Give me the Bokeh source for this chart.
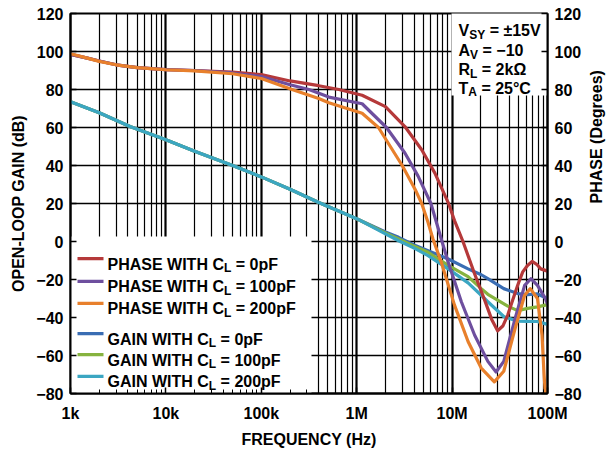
import math
from bokeh.plotting import figure
from bokeh.models import LinearAxis, Range1d, FixedTicker, Label, BoxAnnotation
from bokeh.embed import file_html
from bokeh.resources import INLINE

FONT = "Liberation Sans"

# ---------------- data ----------------
x_tick_values = [1000, 10000, 100000, 1000000, 10000000, 100000000]
x_tick_labels = ["1k", "10k", "100k", "1M", "10M", "100M"]
y_tick_values = [-80, -60, -40, -20, 0, 20, 40, 60, 80, 100, 120]
y_tick_labels = ["\u221280", "\u221260", "\u221240", "\u221220", "0", "20", "40", "60", "80", "100", "120"]

gain_0pF_freq = [1e3, 2e3, 4.2e3, 1e4, 2e4, 5e4, 1e5, 2e5, 4e5, 1e6, 2e6, 2.75e6, 4e6, 5.6e6,
                 9.1e6, 14.7e6, 20.2e6, 23.7e6, 34.8e6, 48.7e6, 61.7e6, 78.5e6, 1e8]
gain_0pF = [73.5, 67.8, 60.5, 53.5, 47.5, 40, 34, 27.5, 20.5, 12, 5, 2.2, -1.8, -4.8,
            -9.2, -14.4, -17.5, -19.6, -24.8, -27.4, -28, -27.6, -30]

gain_100pF_freq = [1e3, 2e3, 4.2e3, 1e4, 2e4, 5e4, 1e5, 2e5, 4e5, 1e6, 2e6, 2.75e6, 4e6, 5.6e6,
                   9.1e6, 14.7e6, 20.2e6, 23.7e6, 38.3e6, 48.7e6, 62e6, 78.5e6, 1e8]
gain_100pF = [73.5, 67.8, 60.5, 53.5, 47.5, 40, 34, 27.5, 20.5, 12, 4.5, 1.3, -2.5, -5.7,
              -12.6, -18.5, -24.8, -27.8, -34, -36.4, -35.2, -34.4, -33.2]

gain_200pF_freq = [1e3, 2e3, 4.2e3, 1e4, 2e4, 5e4, 1e5, 2e5, 4e5, 1e6, 2e6, 2.75e6, 4e6, 5.6e6,
                   9.1e6, 14.7e6, 20.2e6, 23.7e6, 35e6, 48.7e6, 62e6, 78.5e6, 1e8]
gain_200pF = [73.5, 67.8, 60.5, 53.5, 47.5, 40, 34, 27.5, 20.5, 12, 4, 0.4, -3.5, -7.4,
              -14.4, -21.8, -28.3, -31.7, -39.6, -41.9, -42, -42.1, -43.6]

phase_0pF_freq = [1e3, 1.5e3, 2e3, 3e3, 5e3, 1e4, 2e4, 5e4, 1e5, 2e5, 4e5, 6.5e5, 1.14e6, 2e6,
                  3.2e6, 4.8e6, 6.6e6, 9.1e6, 10.6e6, 13e6, 17.2e6, 22e6, 26e6, 30e6, 34e6,
                  38.3e6, 43e6, 48.7e6, 55e6, 61.7e6, 69e6, 77e6, 85e6, 1e8]
phase_0pF = [98.5, 96.5, 95, 93, 91.5, 90.5, 90, 89.2, 87.8, 84.5, 82, 80, 77, 71,
             60.5, 48.3, 36, 20.5, 11, 0, -17, -31, -41, -47, -44.5,
             -38.7, -31, -23, -16, -12.6, -10.5, -12, -14.4, -15.6]

phase_100pF_freq = [1e3, 1.5e3, 2e3, 3e3, 5e3, 1e4, 2e4, 5e4, 1e5, 2e5, 3.16e5, 5.1e5, 1.14e6,
                    2.05e6, 3.2e6, 4.4e6, 6e6, 7.7e6, 9.1e6, 12.5e6, 17.2e6, 23.7e6, 28.9e6,
                    34.8e6, 45.8e6, 57.6e6, 67e6, 78.5e6, 95e6, 1e8]
phase_100pF = [98.5, 96.5, 95, 93, 91.5, 90.5, 90, 88.7, 86.8, 82.5, 80, 76, 72.5,
               60, 46.6, 34.4, 20, 1.3, -10.9, -31.7, -49.2, -63.1, -68.7,
               -63.1, -40.5, -23.1, -19.6, -23.1, -30, -33]

phase_200pF_freq = [1e3, 1.5e3, 2e3, 3e3, 5e3, 1e4, 2e4, 5e4, 1e5, 2.1e5, 4e5, 5.1e5, 1.14e6,
                    1.69e6, 3e6, 4.1e6, 4.8e6, 5.6e6, 6.3e6, 7.7e6, 10.6e6, 14.7e6, 20.2e6,
                    27.7e6, 34.8e6, 45.8e6, 57.6e6, 66e6, 78.5e6, 87.6e6, 92e6, 95e6]
phase_200pF = [98.8, 96.5, 94.8, 93, 91.5, 90.4, 89.8, 88.3, 85.8, 80, 75.3, 73, 67.5,
               60, 40, 27.4, 20, 10, 1.3, -10.9, -33.5, -52.6, -66.6,
               -73.9, -68.3, -45.7, -28.3, -24.8, -30, -49.2, -70, -80]

legend_labels = [
    ("PHASE WITH C", "L", " = 0pF"),
    ("PHASE WITH C", "L", " = 100pF"),
    ("PHASE WITH C", "L", " = 200pF"),
    ("GAIN WITH C", "L", " = 0pF"),
    ("GAIN WITH C", "L", " = 100pF"),
    ("GAIN WITH C", "L", " = 200pF"),
]
conditions = [
    ("V", "SY", " = \u00b115V"),
    ("A", "V", " = \u221210"),
    ("R", "L", " = 2k\u03a9"),
    ("T", "A", " = 25\u00b0C"),
]

# ---------------- styles ----------------
RED = "#B5393A"
PURPLE = "#6E4F9E"
ORANGE = "#E8802C"
BLUE = "#3A6DB3"
GREEN = "#86B33F"
CYAN = "#3BA6C2"
colors = [RED, PURPLE, ORANGE, BLUE, GREEN, CYAN]

FRAME_LEFT = 70     # page px
FRAME_BOTTOM = 395  # page px

p = figure(width=616, height=450, x_axis_type="log",
           x_range=Range1d(1e3, 1e8), y_range=Range1d(-80, 120),
           output_backend="svg", toolbar_location=None,
           min_border_left=70, min_border_right=66, min_border_top=13, min_border_bottom=55)
p.background_fill_color = "white"
p.border_fill_color = "white"
p.outline_line_color = "black"
p.outline_line_width = 2

minor = [m * 10 ** e for e in range(3, 8) for m in range(2, 10)]
xticker = FixedTicker(ticks=x_tick_values, minor_ticks=minor)
yticker = FixedTicker(ticks=y_tick_values)

p.xaxis.ticker = xticker
p.xgrid.ticker = xticker
p.yaxis.ticker = yticker
p.ygrid.ticker = yticker

right_axis = LinearAxis(ticker=yticker, axis_label="PHASE (Degrees)")
try:
    right_axis.axis_label_orientation = math.pi / 2
except Exception:
    pass
p.add_layout(right_axis, "right")

p.xaxis.major_label_overrides = dict(zip(x_tick_values, x_tick_labels))
p.yaxis.major_label_overrides = dict(zip(y_tick_values, y_tick_labels))
p.xaxis.axis_label = "FREQUENCY (Hz)"
p.yaxis[0].axis_label = "OPEN-LOOP GAIN (dB)"

for ax in list(p.xaxis) + list(p.yaxis):
    ax.axis_line_color = "black"
    ax.axis_line_width = 2
    ax.major_tick_in = 6
    ax.major_tick_out = 0
    ax.major_tick_line_color = "black"
    ax.major_tick_line_width = 1.5
    ax.major_label_text_font = FONT
    ax.major_label_text_font_style = "bold"
    ax.major_label_text_font_size = "16px"
    ax.major_label_text_color = "black"
    ax.axis_label_text_font = FONT
    ax.axis_label_text_font_style = "bold"
    ax.axis_label_text_font_size = "16px"
    ax.axis_label_text_color = "black"

for ax in p.yaxis:
    ax.minor_tick_line_color = None
    ax.major_label_standoff = 7
    ax.axis_label_standoff = 6
right_axis.axis_label_standoff = 12

p.xaxis.minor_tick_in = 4
p.xaxis.minor_tick_out = 0
p.xaxis.minor_tick_line_color = "black"
p.xaxis.major_label_standoff = 11
p.xaxis.axis_label_standoff = 6

p.xgrid.grid_line_color = "black"
p.xgrid.grid_line_width = 2.2
p.xgrid.minor_grid_line_color = "black"
p.xgrid.minor_grid_line_width = 1.2
p.ygrid.grid_line_color = "black"
p.ygrid.grid_line_width = 1.5


def sx(px):
    return px - FRAME_LEFT


def sy(py):
    return FRAME_BOTTOM - py


# white boxes behind legend and conditions (cover the grid)
p.add_layout(BoxAnnotation(left=sx(70), right=sx(311), bottom=sy(395), top=sy(238),
                           left_units="screen", right_units="screen",
                           bottom_units="screen", top_units="screen",
                           fill_color="white", fill_alpha=1, line_color=None, level="underlay"))
p.add_layout(BoxAnnotation(left=sx(451), right=sx(550), bottom=sy(97), top=sy(13),
                           left_units="screen", right_units="screen",
                           bottom_units="screen", top_units="screen",
                           fill_color="white", fill_alpha=1, line_color=None, level="underlay"))

# curves
series = [
    (gain_0pF_freq, gain_0pF, BLUE),
    (gain_100pF_freq, gain_100pF, GREEN),
    (gain_200pF_freq, gain_200pF, CYAN),
    (phase_0pF_freq, phase_0pF, RED),
    (phase_100pF_freq, phase_100pF, PURPLE),
    (phase_200pF_freq, phase_200pF, ORANGE),
]
for fx, fy, c in series:
    p.line(fx, fy, line_color=c, line_width=3.2, line_join="round", line_cap="round")

# text helpers
W = {' ': 278, 'A': 722, 'C': 722, 'E': 667, 'F': 611, 'G': 778, 'H': 722, 'I': 278, 'L': 611,
     'N': 722, 'P': 667, 'R': 722, 'S': 667, 'T': 611, 'V': 667, 'W': 944, 'Y': 667,
     '=': 584, '\u00b1': 584, '\u2212': 584, '\u00b0': 400, 'k': 556, 'p': 611, '\u03a9': 768}


def tw(s, size):
    return sum(W.get(ch, 556) for ch in s) * size / 1000.0


MAIN = 16
SUB = 12


def rich(parts, x0, base):
    x = x0
    for i, txt in enumerate(parts):
        size = SUB if i == 1 else MAIN
        dy = 4 if i == 1 else 0
        lead = len(txt) - len(txt.lstrip(" "))
        x += tw(" " * lead, size)
        t = txt.strip(" ")
        p.add_layout(Label(x=sx(x), y=sy(base + dy), x_units="screen", y_units="screen",
                           text=t, text_font=FONT, text_font_style="bold",
                           text_font_size=f"{size}px", text_color="black",
                           text_align="left", text_baseline="alphabetic"))
        x += tw(t, size)


legend_base = [265.7, 288.3, 310.3, 340.7, 361.7, 383.3]
for (parts, c, b) in zip(legend_labels, colors, legend_base):
    yc = b - 5.5
    p.add_layout(BoxAnnotation(left=sx(77), right=sx(103), bottom=sy(yc + 1.6), top=sy(yc - 1.6),
                               left_units="screen", right_units="screen",
                               bottom_units="screen", top_units="screen",
                               fill_color=c, fill_alpha=1, line_color=None))
    rich(parts, 107, b)

cond_base = [32, 52, 71, 89.5]
for parts, b in zip(conditions, cond_base):
    rich(parts, 458, b)

open("out.html", "w").write(file_html(p, INLINE))
